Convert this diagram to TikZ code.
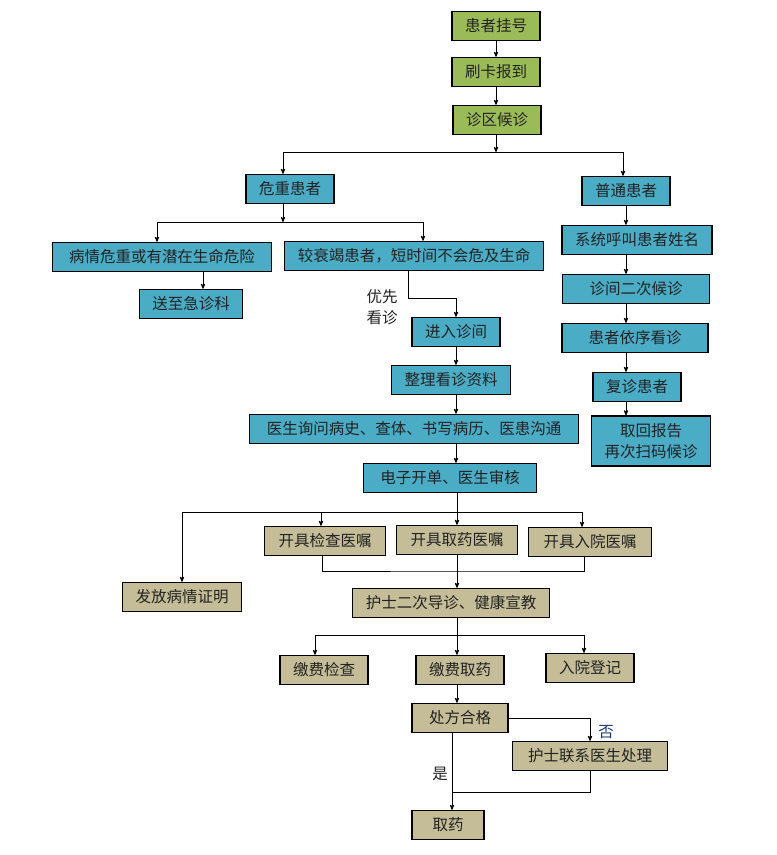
\documentclass[tikz,border=0pt]{standalone}
\usepackage{fontspec}
\newfontfamily\cjk{Noto Sans CJK SC}
\usetikzlibrary{arrows,positioning,shapes}
\definecolor{boxgreen}{HTML}{9BBB59}
\definecolor{boxblue}{HTML}{4BACC6}
\definecolor{boxtan}{HTML}{C4BD97}
\definecolor{txtdark}{HTML}{222222}
\definecolor{txtblue}{HTML}{1F3A6E}

\begin{document}
\begin{tikzpicture}[x=1pt,y=-1pt,>=stealth',line width=0.8pt,
                    font=\cjk\fontsize{15.5}{21}\selectfont,
                    box/.style={draw=black,line width=1.4pt,text=txtdark,
                                inner xsep=13pt,minimum height=29pt},
                    greenbox/.style={box,fill=boxgreen},
                    bluebox/.style={box,fill=boxblue},
                    tanbox/.style={box,fill=boxtan},
                    lbl/.style={text=txtdark,align=center}]

        \useasboundingbox (0,0) rectangle (777,855);

        \node[greenbox] (reg)  at (496,26)  {患者挂号};
        \node[greenbox] (card) at (496,72)  {刷卡报到};
        \node[greenbox] (wait) at (497,120) {诊区候诊};

        \node[bluebox] (crit) at (290,189) {危重患者};
        \node[bluebox] (norm) at (626,191) {普通患者};

        \node[bluebox,minimum width=219pt] (ill)  at (162,257) {病情危重或有潜在生命危险};
        \node[bluebox,minimum width=256pt] (weak) at (414,256) {较衰竭患者，短时间不会危及生命};
        \node[bluebox] (er)    at (191,304) {送至急诊科};
        \node[bluebox] (enter) at (456,332) {进入诊间};
        \node[bluebox] (sort)  at (451,380) {整理看诊资料};
        \node[bluebox,minimum width=329pt] (ask)  at (414,429) {医生询问病史、查体、书写病历、医患沟通};
        \node[bluebox,minimum width=173pt] (elec) at (450,478) {电子开单、医生审核};

        \node[bluebox,minimum width=150pt] (call)    at (637,240) {系统呼叫患者姓名};
        \node[bluebox,minimum width=147pt] (wait2)   at (636,289) {诊间二次候诊};
        \node[bluebox,minimum width=146pt] (seq)     at (635,338) {患者依序看诊};
        \node[bluebox]                     (revisit) at (637,387) {复诊患者};
        \node[bluebox,align=center,minimum height=50pt] (report) at (651,441)
              {取回报告\\再次扫码候诊};

        \node[tanbox,minimum width=121pt] (rx1) at (325,541) {开具检查医嘱};
        \node[tanbox,minimum width=121pt] (rx2) at (457,540) {开具取药医嘱};
        \node[tanbox,minimum width=123pt] (rx3) at (590,542) {开具入院医嘱};
        \node[tanbox] (cert)  at (182,597) {发放病情证明};
        \node[tanbox,minimum width=191pt] (guide) at (451,603) {护士二次导诊、健康宣教};

        \node[tanbox] (pay1)  at (324,670) {缴费检查};
        \node[tanbox] (pay2)  at (460,670) {缴费取药};
        \node[tanbox] (admit) at (590,668) {入院登记};
        \node[tanbox,minimum width=96pt]  (presc)   at (460,718) {处方合格};
        \node[tanbox,minimum width=155pt] (contact) at (590,756) {护士联系医生处理};
        \node[tanbox,minimum width=72pt]  (take)    at (448,825) {取药};

        \node[lbl] (prio) at (382,307) {优先\\看诊};
        \node[text=txtblue] (no)  at (606,732) {否};
        \node[lbl]          (yes) at (440,774) {是};

        \coordinate (j1) at (496,152);
        \coordinate (j2) at (283,222);
        \coordinate (j3) at (457,512);
        \coordinate (j4) at (457,571);
        \coordinate (j5) at (457,635);
        \coordinate (j6) at (452,792);

        \draw[->] (reg) -- (card);
        \draw[->] (card) -- (wait.north -| card);
        \draw[->] (wait.south -| j1) -- (j1);
        \draw[->] (j1) -| ([xshift=-7pt]crit.north);
        \draw[->] (j1) -| ([xshift=-3pt]norm.north);

        \draw[->] ([xshift=-7pt]crit.south) -- (j2);
        \draw[->] (j2) -| ([xshift=-5pt]ill.north);
        \draw[->] (j2) -| ([xshift=9pt]weak.north);
        \draw[->] ([xshift=12pt]er.north |- ill.south) -- ([xshift=12pt]er.north);
        \draw[->] ([xshift=-6pt]weak.south) -- ++(0,27) -| (enter.north);
        \draw[->] (enter.south) -- (enter.south |- sort.north);
        \draw[->] (sort.south -| enter) -- (ask.north -| enter);
        \draw[->] (ask.south -| enter) -- (elec.north -| enter);

        \draw[->] (norm.south) -- (norm.south |- call.north);
        \draw[->] (call.south -| norm) -- (wait2.north -| norm);
        \draw[->] (wait2.south -| norm) -- (seq.north -| norm);
        \draw[->] (seq.south -| norm) -- (revisit.north -| norm);
        \draw[->] (revisit.south -| norm) -- (report.north -| norm);

        \draw[->] (elec.south -| rx2) -- (rx2.north);
        \draw (j3 -| cert.north) -- ([xshift=-8pt]j3 -| rx3.north);
        \draw[->] (j3 -| cert.north) -- (cert.north);
        \draw[->] ([xshift=-4pt]j3 -| rx1.north) -- ([xshift=-4pt]rx1.north);
        \draw[->] ([xshift=-8pt]j3 -| rx3.north) -- ([xshift=-8pt]rx3.north);
        \draw ([xshift=-3pt]rx1.south) |- (j4) -| ([xshift=-6pt]rx3.south);
        \draw[->] (rx2.south) -- (rx2.south |- guide.north);

        \draw ([xshift=-9pt]pay1.north |- j5) -- ([xshift=-6pt]admit.north |- j5);
        \draw[->] (rx2.south |- guide.south) -- (rx2.south |- pay2.north);
        \draw[->] ([xshift=-9pt]pay1.north |- j5) -- ([xshift=-9pt]pay1.north);
        \draw[->] ([xshift=-6pt]admit.north |- j5) -- ([xshift=-6pt]admit.north);
        \draw[->] (pay2.south -| rx2) -- (presc.north -| rx2);

        \draw[->] (presc.east) -| (contact.north);
        \draw[->] (j6 |- presc.south) -- (j6 |- take.north);
        \draw (contact.south) |- (j6);
      \end{tikzpicture}
\end{document}
